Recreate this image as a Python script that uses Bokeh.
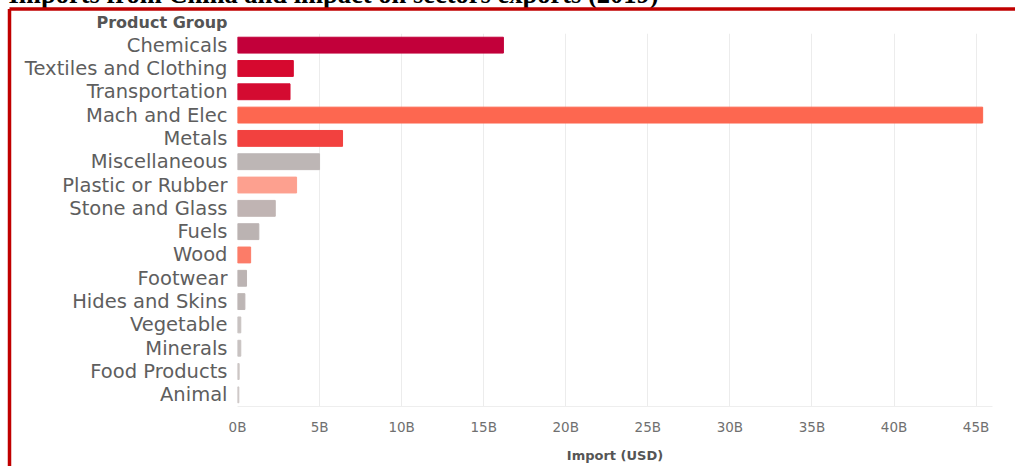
from bokeh.plotting import figure
from bokeh.models import Range1d, FixedTicker, Label, ColumnDataSource
from bokeh.core.properties import value
from bokeh.embed import file_html
from bokeh.resources import INLINE

title_text = "Imports from China and impact on sectors exports (2019)"
y_header = "Product Group"
categories = ["Chemicals", "Textiles and Clothing", "Transportation", "Mach and Elec", "Metals",
              "Miscellaneous", "Plastic or Rubber", "Stone and Glass", "Fuels", "Wood",
              "Footwear", "Hides and Skins", "Vegetable", "Minerals", "Food Products", "Animal"]
imports_busd = [16.2, 3.4, 3.2, 45.4, 6.4, 5.0, 3.6, 2.3, 1.3, 0.8, 0.55, 0.45, 0.2, 0.2, 0.1, 0.08]
bar_colors = ["#c2003a", "#d6092f", "#d40b31", "#fd6750", "#f2413f", "#bdb6b5", "#fda08f", "#c0b4b3",
              "#bbb3b2", "#fc7c68", "#bcb4b3", "#bdb6b5", "#c8c2c1", "#c8c2c1", "#ccc6c5", "#ccc6c5"]
x_ticks = [0, 5, 10, 15, 20, 25, 30, 35, 40, 45]
x_tick_labels = ["0B", "5B", "10B", "15B", "20B", "25B", "30B", "35B", "40B", "45B"]

W, H = 1015, 466
LEFT, RIGHT, TOP, BOTTOM = 237, 23, 33, 60

n = len(categories)
row_pos = [n - 1 - i for i in range(n)]  # first category at the top
src = ColumnDataSource(dict(pos=row_pos, cat=categories, val=imports_busd, color=bar_colors))

p = figure(width=W, height=H, output_backend="svg", toolbar_location=None,
           y_range=Range1d(-0.5, n - 0.5), x_range=Range1d(0, 46),
           min_border_left=LEFT, min_border_right=RIGHT, min_border_top=TOP, min_border_bottom=BOTTOM)
p.outline_line_color = None
p.background_fill_color = "white"
p.border_fill_color = "white"

# pixel-space ranges (canvas coordinates, y downward) for decorations outside the frame
p.extra_x_ranges = {"px": Range1d(LEFT, W - RIGHT)}
p.extra_y_ranges = {"px": Range1d(H - BOTTOM, TOP)}

p.hbar(y="pos", right="val", left=0, height=0.68, color="color", source=src)

p.ygrid.grid_line_color = None
p.xgrid.grid_line_color = "#ececec"
p.xgrid.ticker = FixedTicker(ticks=x_ticks)

p.xaxis.ticker = FixedTicker(ticks=x_ticks)
p.xaxis.major_label_overrides = {t: l for t, l in zip(x_ticks, x_tick_labels)}
p.xaxis.major_tick_line_color = None
p.xaxis.minor_tick_line_color = None
p.xaxis.axis_line_color = "#eeeeee"
p.xaxis.major_label_standoff = 6
p.xaxis.major_label_text_font = "DejaVu Sans"
p.xaxis.major_label_text_font_size = "13.5px"
p.xaxis.major_label_text_color = "#707070"
p.xaxis.axis_label = "Import (USD)"
p.xaxis.axis_label_text_font = "DejaVu Sans"
p.xaxis.axis_label_text_font_style = "bold"
p.xaxis.axis_label_text_font_size = "13px"
p.xaxis.axis_label_text_color = "#555555"
p.xaxis.axis_label_standoff = 10

p.yaxis.ticker = FixedTicker(ticks=row_pos)
p.yaxis.major_label_overrides = {pos: c for pos, c in zip(row_pos, categories)}
p.yaxis.major_tick_line_color = None
p.yaxis.minor_tick_line_color = None
p.yaxis.axis_line_color = None
p.yaxis.major_label_standoff = 4
p.yaxis.major_label_text_font = "DejaVu Sans"
p.yaxis.major_label_text_font_size = "19.5px"
p.yaxis.major_label_text_color = "#5e5e5e"

# y header drawn as overlay text in pixel space
p.text(x=[227], y=[22], text=[y_header], x_range_name="px", y_range_name="px", level="overlay",
       text_font=value("DejaVu Sans"), text_font_style="bold", text_font_size="16px",
       text_color="#555555", text_align="right", text_baseline="middle")

# red frame (top and left edges)
p.segment(x0=[9, 9], y0=[8.5, 8.5], x1=[1100, 9], y1=[8.5, 600], x_range_name="px", y_range_name="px",
          level="overlay", line_color="#c00000", line_width=3.5)

p.add_layout(Label(x=8, y=-7, x_units="canvas", y_units="canvas", text=title_text,
                   text_font="Liberation Serif", text_font_style="bold", text_font_size="26.5px",
                   text_color="#000000", text_align="left", text_baseline="alphabetic"), "above")

open("out.html", "w").write(file_html(p, INLINE))
